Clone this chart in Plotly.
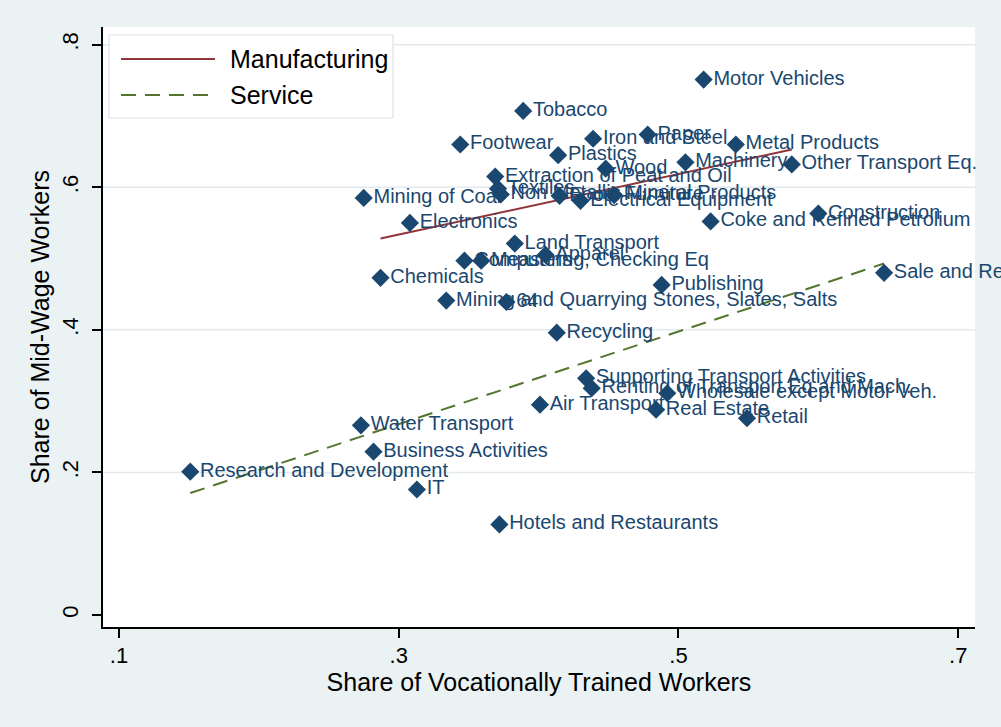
import plotly.graph_objects as go

# ---------------- data ----------------
industries = [
    "Motor Vehicles", "Tobacco", "Footwear", "Iron and Steel", "Paper",
    "Metal Products", "Plastics", "Machinery", "Other Transport Eq.", "Wood",
    "Extraction of Peat and Oil", "Textiles", "Non Metallic Mineral Products",
    "Food", "Furniture", "Electrical Equipment", "Mining of Coal", "Electronics",
    "Coke and Refined Petrolium", "Construction", "Land Transport", "Apparel",
    "Computers", "Measuring, Checking Eq", "Chemicals", "Publishing",
    "Sale and Repair of Motor Vehicles",
    "Mining and Quarrying Stones, Slates, Salts", "64", "Recycling",
    "Supporting Transport Activities", "Renting of Transport Eq and Mach.",
    "Wholesale except Motor Veh.", "Air Transport", "Real Estate", "Retail",
    "Water Transport", "Business Activities", "Research and Development", "IT",
    "Hotels and Restaurants",
]
voc_share = [
    0.518, 0.389, 0.344, 0.439, 0.478,
    0.541, 0.414, 0.505, 0.581, 0.448,
    0.369, 0.371, 0.373,
    0.415, 0.454, 0.430, 0.275, 0.308,
    0.523, 0.600, 0.383, 0.405,
    0.347, 0.359, 0.287, 0.488,
    0.647,
    0.334, 0.377, 0.413,
    0.434, 0.438,
    0.492, 0.401, 0.484, 0.549,
    0.273, 0.282, 0.151, 0.313,
    0.372,
]
mid_share = [
    0.751, 0.707, 0.660, 0.668, 0.674,
    0.660, 0.645, 0.635, 0.632, 0.626,
    0.615, 0.598, 0.590,
    0.588, 0.589, 0.581, 0.585, 0.550,
    0.552, 0.563, 0.521, 0.505,
    0.497, 0.497, 0.473, 0.463,
    0.480,
    0.441, 0.439, 0.396,
    0.332, 0.318,
    0.311, 0.295, 0.288, 0.276,
    0.266, 0.229, 0.201, 0.176,
    0.127,
]

# fitted lines (end points)
mfg_fit_x = [0.287, 0.581]
mfg_fit_y = [0.528, 0.653]
svc_fit_x = [0.151, 0.647]
svc_fit_y = [0.171, 0.493]

x_tickvals = [0.1, 0.3, 0.5, 0.7]
x_ticktext = [".1", ".3", ".5", ".7"]
y_tickvals = [0, 0.2, 0.4, 0.6, 0.8]
y_ticktext = ["0", ".2", ".4", ".6", ".8"]
grid_vals = [0.2, 0.4, 0.6, 0.8]

legend_names = ["Manufacturing", "Service"]

# ---------------- styling ----------------
NAVY = "#1a476f"
MAROON = "#90353b"
GREEN = "#55752f"
BG = "#eaf2f3"
FONT = "Liberation Sans, Arial, sans-serif"

fig = go.Figure()

fig.add_trace(go.Scatter(
    x=mfg_fit_x, y=mfg_fit_y, mode="lines",
    line=dict(color=MAROON, width=2), name=legend_names[0],
    showlegend=False, hoverinfo="skip"))
fig.add_trace(go.Scatter(
    x=svc_fit_x, y=svc_fit_y, mode="lines",
    line=dict(color=GREEN, width=2, dash="15px,9px"), name=legend_names[1],
    showlegend=False, hoverinfo="skip"))

fig.add_trace(go.Scatter(
    x=voc_share, y=mid_share, mode="markers+text",
    text=industries, textposition="middle right",
    textfont=dict(family=FONT, size=20, color=NAVY),
    marker=dict(symbol="diamond", size=14, color=NAVY, line=dict(width=0)),
    cliponaxis=False, showlegend=False))

# gridlines (not at 0)
shapes = []
for g in grid_vals:
    shapes.append(dict(type="line", xref="paper", yref="y", x0=0, x1=1, y0=g, y1=g,
                       line=dict(color="#e2eaee", width=1.5), layer="below"))

# manual legend (Stata style box)
L, R, T, B = 103, 975, 27, 627
def px(v):
    return (v - L) / (R - L)
def py(v):
    return (B - v) / (B - T)

shapes.append(dict(type="rect", xref="paper", yref="paper",
                   x0=px(109), x1=px(393), y0=py(118), y1=py(35),
                   fillcolor="white", line=dict(color="#dde3e6", width=1.2), layer="above"))
shapes.append(dict(type="line", xref="paper", yref="paper",
                   x0=px(121), x1=px(215), y0=py(59), y1=py(59),
                   line=dict(color=MAROON, width=2), layer="above"))
shapes.append(dict(type="line", xref="paper", yref="paper",
                   x0=px(121), x1=px(215), y0=py(95), y1=py(95),
                   line=dict(color=GREEN, width=2, dash="15px,9px"), layer="above"))

annotations = []
for name, yy in zip(legend_names, [59, 95]):
    annotations.append(dict(text=name, xref="paper", yref="paper", x=px(228), y=py(yy),
                            xanchor="left", yanchor="middle", showarrow=False,
                            font=dict(family=FONT, size=25, color="black")))

fig.update_layout(
    width=1001, height=727,
    margin=dict(l=L, r=1001 - R, t=T, b=727 - B, pad=0),
    paper_bgcolor=BG, plot_bgcolor="white",
    font=dict(family=FONT, color="black"),
    shapes=shapes, annotations=annotations,
    xaxis=dict(range=[0.0886, 0.712], tickvals=x_tickvals, ticktext=x_ticktext,
               automargin=False,
               showgrid=False, zeroline=False, showline=True, linecolor="black",
               linewidth=1.5, ticks="outside", ticklen=9, tickwidth=1.5,
               tickcolor="black", tickfont=dict(size=22), ticklabelstandoff=-1,
               title=dict(text="Share of Vocationally Trained Workers",
                          font=dict(size=25), standoff=2)),
    yaxis=dict(range=[-0.0169, 0.8248], tickvals=y_tickvals, ticktext=y_ticktext,
               automargin=False,
               showgrid=False, zeroline=False, showline=True, linecolor="black",
               linewidth=1.5, ticks="outside", ticklen=9, tickwidth=1.5,
               tickcolor="black", tickfont=dict(size=22), tickangle=-90,
               ticklabelstandoff=5,
               title=dict(text="Share of Mid-Wage Workers",
                          font=dict(size=25), standoff=2)),
)

fig.write_html("out.html", config={"displayModeBar": False},
               post_script="document.body.style.margin='0';")
